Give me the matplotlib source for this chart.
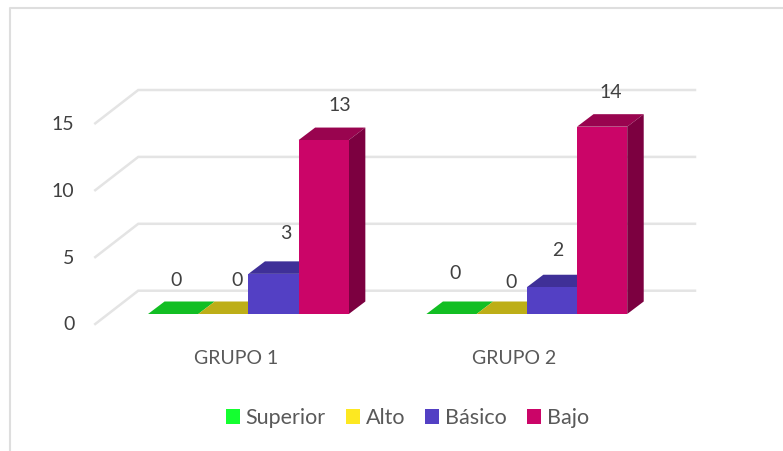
import matplotlib
matplotlib.use("Agg")
import matplotlib.pyplot as plt
from matplotlib.patches import Polygon, Patch
from matplotlib.lines import Line2D

categories = ["GRUPO 1", "GRUPO 2"]
series_names = ["Superior", "Alto", "Básico", "Bajo"]
superior = [0, 0]
alto = [0, 0]
basico = [3, 2]
bajo = [13, 14]
y_ticks = [0, 5, 10, 15]

front_colors = ["#12BE23", "#BDAE17", "#5340C4", "#CB0568"]
top_colors = ["#12BE23", "#BDAE17", "#3F3098", "#99044F"]
side_colors = ["#0E9A1C", "#9A8E12", "#33277C", "#7C0040"]
legend_colors = ["#14FF30", "#FDE821", "#5340C4", "#CB0568"]
text_color = "#404040"
grid_color = "#E4E4E4"

# manual placement of each value label, in pixels from the bar's top-back centre
label_nudge = {
    (0, 0): (-14, 21), (1, 0): (-3, 21), (2, 0): (-4, 27.6), (3, 0): (0, 22),
    (0, 1): (-13, 28), (1, 1): (-7, 19), (2, 1): (-10.5, 24), (3, 1): (-8, 22),
}

W, H = 783, 451
plt.rcParams["font.family"] = ["Lato", "DejaVu Sans"]
fig = plt.figure(figsize=(W / 100, H / 100), dpi=100)

# plot area in pixels (bar plane)
PX_L, PX_R = 109.25, 666.0
PX_BASE, PX_TOP = 314.0, 113.3
ax = fig.add_axes([PX_L / W, 1 - PX_BASE / H, (PX_R - PX_L) / W, (PX_BASE - PX_TOP) / H])
ax.set_xlim(-0.5, 1.5)
ax.set_ylim(0, 15)
ax.patch.set_visible(False)
for s in ax.spines.values():
    s.set_visible(False)
ux = (PX_R - PX_L) / 2
uy = (PX_BASE - PX_TOP) / 15

def dx(p):
    return p / ux

def dy(p):
    return p / uy

# gridlines: back wall and left floor edge
for t in y_ticks:
    ax.plot([-0.5 + dx(-14), -0.5 + dx(29), 1.5 + dx(29)],
            [t + dy(-10), t + dy(23.3), t + dy(23.3)],
            color=grid_color, lw=1.8, clip_on=False, zorder=1, solid_joinstyle="miter")

bar_w = dx(50.2)
depth_x, depth_y = dx(16.5), dy(12.5)
all_series = [superior, alto, basico, bajo]
for s_idx in [0, 1, 2, 3]:
    vals = all_series[s_idx]
    for c_idx, v in enumerate(vals):
        x0 = c_idx + (s_idx - 2) * bar_w
        x1 = x0 + bar_w
        z = 3 + s_idx
        ax.add_patch(Polygon([(x0, v), (x1, v), (x1 + depth_x, v + depth_y), (x0 + depth_x, v + depth_y)],
                             closed=True, fc=top_colors[s_idx], ec="none", zorder=z, clip_on=False))
        if v > 0:
            ax.add_patch(Polygon([(x1, 0), (x1 + depth_x, depth_y), (x1 + depth_x, v + depth_y), (x1, v)],
                                 closed=True, fc=side_colors[s_idx], ec="none", zorder=z, clip_on=False))
            ax.add_patch(Polygon([(x0, 0), (x1, 0), (x1, v), (x0, v)],
                                 closed=True, fc=front_colors[s_idx], ec="none", zorder=z + 0.5, clip_on=False))
        nx, ny = label_nudge[(s_idx, c_idx)]
        ax.annotate(str(v), (x0 + bar_w / 2 + depth_x, v + depth_y), xytext=(nx, ny),
                    textcoords="offset pixels", ha="center", va="center",
                    fontsize=14, color=text_color, zorder=10, annotation_clip=False)

ax.set_xticks([i + dx(-12.5) for i in range(len(categories))])
ax.set_xticklabels(categories, fontsize=14, color="#595959")
ax.set_yticks(y_ticks)
ax.set_yticklabels([str(t) for t in y_ticks], fontsize=14, color=text_color)
ax.tick_params(axis="both", length=0)
ax.tick_params(axis="x", pad=26)
ax.tick_params(axis="y", pad=25)
for lab in ax.get_yticklabels():
    lab.set_verticalalignment("center")
    lab.set_transform(lab.get_transform() + matplotlib.transforms.Affine2D().translate(0, -11))

handles = [Patch(fc=c, ec="none", label=n) for c, n in zip(legend_colors, series_names)]
fig.legend(handles=handles, loc="center", bbox_to_anchor=(407.5 / W, 1 - 418 / H), ncol=4, frameon=False,
           fontsize=15.5, labelcolor="#595959", handlelength=0.65, handleheight=0.65,
           handletextpad=0.28, columnspacing=0.93, borderaxespad=0)

# outer chart frame
fig.add_artist(Line2D([10 / W, 10 / W, 1], [0, 1 - 7.5 / H, 1 - 7.5 / H], transform=fig.transFigure,
                      color="#DEDEDE", lw=1.5))

fig.savefig("out.png", dpi=100)
